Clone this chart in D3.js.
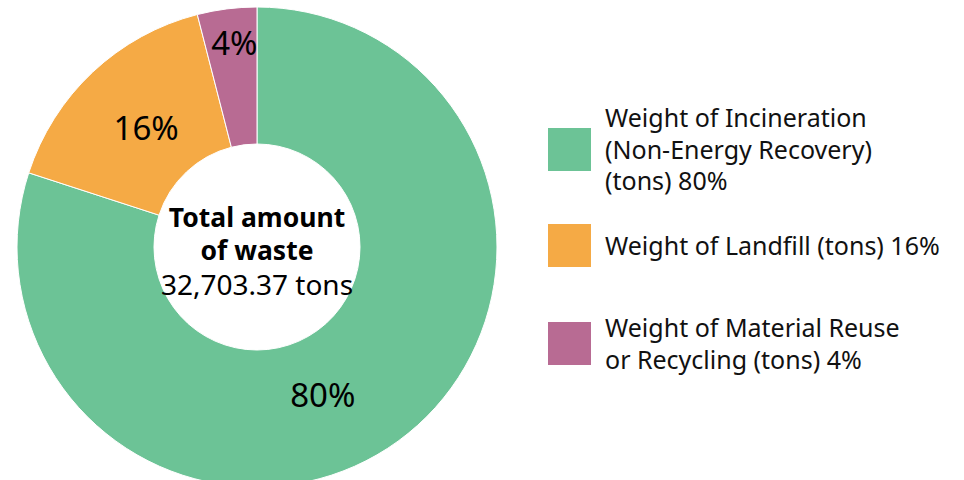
<!DOCTYPE html>
<html>
<head>
<meta charset="utf-8">
<style>
  body { margin: 0; background: #fff; }
  svg { display: block; font-family: "Noto Sans", sans-serif; }
</style>
<script src="https://d3js.org/d3.v7.min.js"></script>
</head>
<body>
<svg id="chart" width="964" height="480"></svg>
<script>
  // data
  var categories = ["Incineration", "Landfill", "Material Reuse"]
  var shares = [80, 16, 4]
  var legendLines = [
    ["Weight of Incineration", "(Non-Energy Recovery)", "(tons) 80%"],
    ["Weight of Landfill (tons) 16%"],
    ["Weight of Material Reuse", "or Recycling (tons) 4%"]
  ]
  var centerLines = ["Total amount", "of waste", "32,703.37 tons"]
  var colors = ["#6cc396", "#f5aa45", "#b86b93"]

  var svg = d3.select("#chart")
  var cx = 257, cy = 247
  var outerR = 240, innerR = 103

  var color = d3.scaleOrdinal().domain(categories).range(colors)
  var pie = d3.pie().sort(null).value(function(d, i) { return shares[i] })
  var arcs = pie(categories)
  var arc = d3.arc().innerRadius(innerR).outerRadius(outerR)

  var g = svg.append("g").attr("transform", "translate(" + cx + "," + cy + ")")

  g.selectAll("path")
    .data(arcs)
    .enter()
    .append("path")
    .attr("d", arc)
    .attr("fill", function(d) { return color(d.data) })
    .attr("stroke", "#fff")
    .attr("stroke-width", 1)

  // slice labels - small slices pushed further out
  g.selectAll(".pct")
    .data(arcs)
    .enter()
    .append("text")
    .attr("class", "pct")
    .attr("transform", function(d) {
      var r = shares[d.index] < 5 ? 205 : 162
      var a = (d.startAngle + d.endAngle) / 2
      if (shares[d.index] > 50) a += 0.21
      if (shares[d.index] < 5) a += 0.015
      return "translate(" + (Math.sin(a) * r) + "," + (-Math.cos(a) * r) + ")"
    })
    .attr("text-anchor", "middle")
    .attr("dy", "0.35em")
    .style("font-size", "33px")
    .text(function(d) { return shares[d.index] + "%" })

  // center text
  var centerY = [-29, 4, 38]
  g.selectAll(".center")
    .data(centerLines)
    .enter()
    .append("text")
    .attr("class", "center")
    .attr("text-anchor", "middle")
    .attr("y", function(d, i) { return centerY[i] })
    .attr("dy", "0.35em")
    .style("font-size", function(d, i) { return i < 2 ? "26.5px" : "28px" })
    .style("font-weight", function(d, i) { return i < 2 ? "bold" : "normal" })
    .text(function(d) { return d })

  // legend
  var legendY = [150, 246, 344]
  var legend = svg.selectAll(".legend")
    .data(categories)
    .enter()
    .append("g")
    .attr("class", "legend")
    .attr("transform", function(d, i) { return "translate(548," + legendY[i] + ")" })

  legend.append("rect")
    .attr("x", 0)
    .attr("y", -22)
    .attr("width", 43)
    .attr("height", 43)
    .attr("fill", function(d) { return color(d) })

  legend.each(function(d, i) {
    var lines = legendLines[i]
    var n = lines.length
    d3.select(this).selectAll("text")
      .data(lines)
      .enter()
      .append("text")
      .attr("x", 57)
      .attr("y", function(t, j) { return (j - (n - 1) / 2) * 31.5 })
      .attr("dy", "0.35em")
      .style("font-size", "25px")
      .attr("fill", "#111")
      .text(function(t) { return t })
  })
</script>
</body>
</html>
